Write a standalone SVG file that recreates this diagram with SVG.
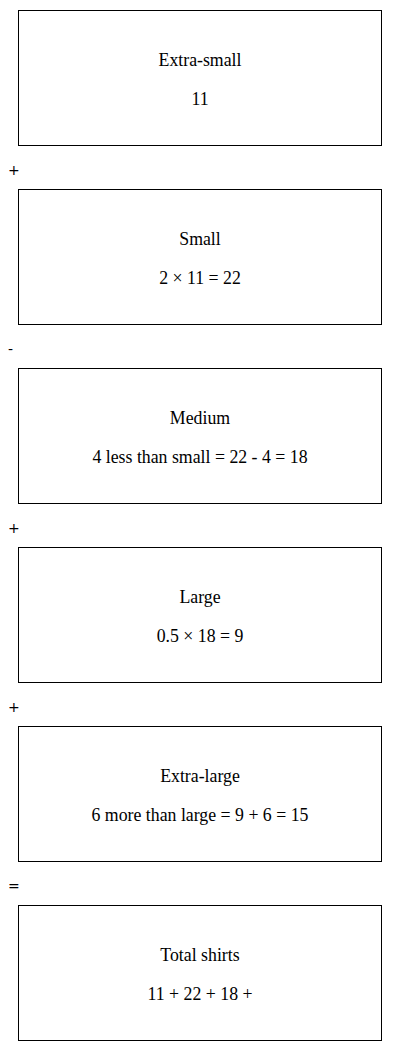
<svg xmlns="http://www.w3.org/2000/svg" width="400" height="1051" viewBox="0 0 400 1051">
<style>
.box{fill:#fff;stroke:#000;stroke-width:1}
.t{font-family:"Liberation Serif","DejaVu Serif",serif;font-size:17.8px;text-anchor:middle;fill:#000}
.op{font-family:"DejaVu Sans","Liberation Sans",sans-serif;font-size:14px;fill:#000}
</style>
<rect width="400" height="1051" fill="#fff"/>
<g id="connectors">
<text class="op" x="8" y="174.5">+</text>
<text class="op" x="8" y="353.5">-</text>
<text class="op" x="8" y="532.5">+</text>
<text class="op" x="8" y="711.5">+</text>
<text class="op" x="8" y="890.5">=</text>
</g>
<g id="n1"><rect class="box" x="18.5" y="10.5" width="363" height="135"/><text class="t" x="200" y="66">Extra-small</text><text class="t" x="200" y="105">11</text></g>
<g id="n2"><rect class="box" x="18.5" y="189.5" width="363" height="135"/><text class="t" x="200" y="245">Small</text><text class="t" x="200" y="284">2 × 11 = 22</text></g>
<g id="n3"><rect class="box" x="18.5" y="368.5" width="363" height="135"/><text class="t" x="200" y="424">Medium</text><text class="t" x="200" y="463">4 less than small = 22 - 4 = 18</text></g>
<g id="n4"><rect class="box" x="18.5" y="547.5" width="363" height="135"/><text class="t" x="200" y="603">Large</text><text class="t" x="200" y="642">0.5 × 18 = 9</text></g>
<g id="n5"><rect class="box" x="18.5" y="726.5" width="363" height="135"/><text class="t" x="200" y="782">Extra-large</text><text class="t" x="200" y="821">6 more than large = 9 + 6 = 15</text></g>
<g id="n6"><rect class="box" x="18.5" y="905.5" width="363" height="135"/><text class="t" x="200" y="961">Total shirts</text><text class="t" x="200" y="1000">11 + 22 + 18 +</text></g>
</svg>
